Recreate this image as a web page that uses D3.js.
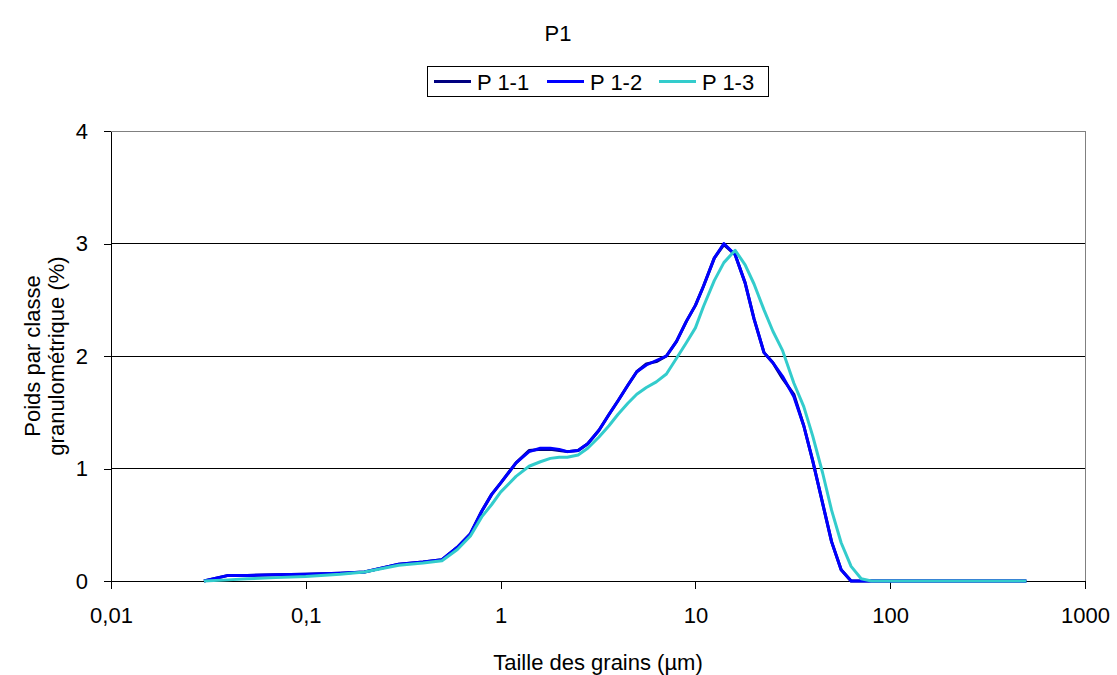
<!DOCTYPE html>
<html>
<head>
<meta charset="utf-8">
<script src="https://d3js.org/d3.v7.min.js"></script>
<style>
  body { margin: 0; background: #fff; }
  svg text { font-family: Arial, "Liberation Sans", sans-serif; fill: #000; }
</style>
</head>
<body>
<svg width="1117" height="675"></svg>
<script>
// grain size classes (µm)
const sizes = [0.03, 0.04, 0.05, 0.07, 0.1, 0.15, 0.2, 0.3, 0.4, 0.5, 0.6, 0.7, 0.8, 0.9,
  1, 1.2, 1.4, 1.6, 1.8, 2, 2.2, 2.5, 2.8, 3.2, 3.6, 4, 4.5, 5, 5.6, 6.3, 7.1, 8, 9,
  10, 11, 12.5, 14, 16, 18, 20, 22.5, 25, 28, 32, 36, 40, 45, 50, 56, 63, 71, 80, 100, 200, 500];

const p11 = [0, 0.05, 0.05, 0.055, 0.06, 0.07, 0.08, 0.15, 0.17, 0.19, 0.30, 0.42, 0.62, 0.77,
  0.87, 1.05, 1.16, 1.17, 1.17, 1.16, 1.15, 1.16, 1.22, 1.34, 1.48, 1.60, 1.74, 1.86, 1.93, 1.95, 2.00, 2.13, 2.31,
  2.45, 2.62, 2.87, 2.99, 2.90, 2.65, 2.33, 2.03, 1.94, 1.80, 1.66, 1.38, 1.07, 0.69, 0.35, 0.10, 0, 0, 0, 0, 0, 0];

const p12 = [0, 0.05, 0.05, 0.055, 0.06, 0.07, 0.08, 0.15, 0.17, 0.19, 0.30, 0.42, 0.62, 0.77,
  0.87, 1.05, 1.15, 1.18, 1.18, 1.17, 1.15, 1.16, 1.22, 1.34, 1.48, 1.60, 1.74, 1.86, 1.92, 1.96, 2.00, 2.13, 2.31,
  2.45, 2.62, 2.87, 3.00, 2.90, 2.65, 2.33, 2.03, 1.94, 1.82, 1.64, 1.38, 1.07, 0.69, 0.35, 0.10, 0, 0, 0, 0, 0, 0];

const p13 = [0, 0.01, 0.02, 0.03, 0.04, 0.06, 0.08, 0.14, 0.16, 0.18, 0.28, 0.40, 0.57, 0.68,
  0.79, 0.93, 1.02, 1.06, 1.09, 1.10, 1.10, 1.12, 1.18, 1.28, 1.38, 1.48, 1.58, 1.66, 1.72, 1.77, 1.84, 1.98, 2.12,
  2.25, 2.44, 2.67, 2.83, 2.94, 2.81, 2.64, 2.41, 2.22, 2.05, 1.76, 1.55, 1.29, 0.96, 0.63, 0.34, 0.13, 0.02, 0, 0, 0, 0];

const seriesNames = ['P 1-1', 'P 1-2', 'P 1-3'];
const seriesColors = ['#000080', '#0000ff', '#33cccc'];
const seriesValues = [p11, p12, p13];

const xTicks = [0.01, 0.1, 1, 10, 100, 1000];
const xTickLabels = ['0,01', '0,1', '1', '10', '100', '1000'];
const yTicks = [0, 1, 2, 3, 4];

const svg = d3.select('svg');
const plotLeft = 111, plotRight = 1085, plotTop = 131, plotBottom = 581;

const x = d3.scaleLog().domain([0.01, 1000]).range([plotLeft, plotRight]);
const y = d3.scaleLinear().domain([0, 4]).range([plotBottom, plotTop]);

// grid lines
svg.append('g')
  .selectAll('line')
  .data(yTicks.slice(1))
  .join('line')
  .attr('x1', plotLeft).attr('x2', plotRight)
  .attr('y1', d => y(d)).attr('y2', d => y(d))
  .attr('stroke', d => d === 4 ? '#808080' : '#000')
  .attr('stroke-width', 1)
  .attr('shape-rendering', 'crispEdges');

// right border
svg.append('line')
  .attr('x1', plotRight).attr('x2', plotRight).attr('y1', plotTop).attr('y2', plotBottom)
  .attr('stroke', '#808080').attr('shape-rendering', 'crispEdges');

// axes
const xAxis = d3.axisBottom(x)
  .tickValues(xTicks)
  .tickFormat((d, i) => xTickLabels[i])
  .tickSize(8).tickSizeOuter(0).tickPadding(18);
svg.append('g')
  .attr('transform', `translate(0,${plotBottom})`)
  .call(xAxis)
  .call(g => g.selectAll('path,line').attr('stroke', '#000').attr('shape-rendering', 'crispEdges'))
  .call(g => g.selectAll('text').attr('font-size', 22).attr('font-family', 'Arial, "Liberation Sans", sans-serif'));

const yAxis = d3.axisLeft(y)
  .tickValues(yTicks)
  .tickFormat(d3.format('d'))
  .tickSize(7).tickSizeOuter(0).tickPadding(16);
svg.append('g')
  .attr('transform', `translate(${plotLeft},0)`)
  .call(yAxis)
  .call(g => g.selectAll('path,line').attr('stroke', '#000').attr('shape-rendering', 'crispEdges'))
  .call(g => g.selectAll('text').attr('font-size', 22).attr('font-family', 'Arial, "Liberation Sans", sans-serif'));

// series
const line = d3.line()
  .x(d => x(d[0]))
  .y(d => y(d[1]));

seriesValues.forEach((vals, i) => {
  svg.append('path')
    .datum(sizes.map((s, j) => [s, vals[j]]))
    .attr('d', line)
    .attr('fill', 'none')
    .attr('stroke', seriesColors[i])
    .attr('stroke-width', 3)
    .attr('stroke-linejoin', 'round');
});

// title
svg.append('text')
  .attr('x', 558).attr('y', 41)
  .attr('text-anchor', 'middle')
  .attr('font-size', 22)
  .text('P1');

// legend
const legend = svg.append('g');
legend.append('rect')
  .attr('x', 427.5).attr('y', 66.5).attr('width', 341).attr('height', 30)
  .attr('fill', '#fff').attr('stroke', '#000');
const legendX = [434, 547, 659];
seriesNames.forEach((n, i) => {
  legend.append('line')
    .attr('x1', legendX[i]).attr('x2', legendX[i] + 37)
    .attr('y1', 81.5).attr('y2', 81.5)
    .attr('stroke', seriesColors[i]).attr('stroke-width', 3);
  legend.append('text')
    .attr('x', legendX[i] + 43).attr('y', 89.5)
    .attr('font-size', 22)
    .text(n);
});

// axis titles
svg.append('text')
  .attr('x', (plotLeft + plotRight) / 2).attr('y', 670)
  .attr('text-anchor', 'middle')
  .attr('font-size', 22)
  .text('Taille des grains (µm)');

const ytitle = svg.append('text')
  .attr('transform', `translate(40,${(plotTop + plotBottom) / 2}) rotate(-90)`)
  .attr('text-anchor', 'middle')
  .attr('font-size', 22);
ytitle.append('tspan').attr('x', 0).attr('dy', 0).text('Poids par classe');
ytitle.append('tspan').attr('x', 0).attr('dy', 24).text('granulométrique (%)');
</script>
</body>
</html>
